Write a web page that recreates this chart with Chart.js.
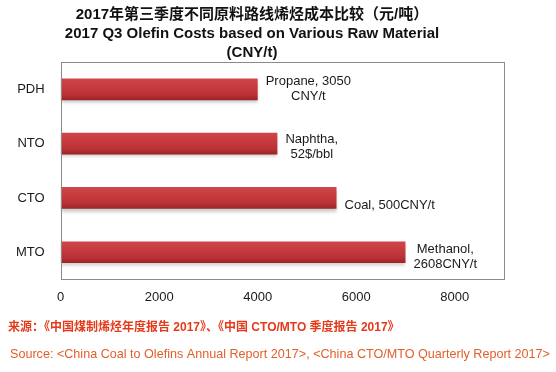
<!DOCTYPE html>
<html>
<head>
<meta charset="utf-8">
<script src="https://cdn.jsdelivr.net/npm/chart.js@4"></script>
<style>
  body { margin: 0; background: #fff; }
  #wrap { width: 556px; height: 372px; }
</style>
</head>
<body>
<div id="wrap"><canvas id="barChart" width="556" height="372"></canvas></div>
<script>
const routes = ['PDH', 'NTO', 'CTO', 'MTO'];
const costs = [4000, 4400, 5600, 7000];
const feedLabels = [
    ['Propane, 3050', 'CNY/t'],
    ['Naphtha,', '52$/bbl'],
    ['Coal, 500CNY/t'],
    ['Methanol,', '2608CNY/t']
];
const xTicks = [0, 2000, 4000, 6000, 8000];
const titleLines = [
    '2017年第三季度不同原料路线烯烃成本比较（元/吨）',
    '2017 Q3 Olefin Costs based on Various Raw Material',
    '(CNY/t)'
];
const sourceCn = '来源：《中国煤制烯烃年度报告 2017》、《中国 CTO/MTO 季度报告 2017》';
const sourceEn = 'Source: <China Coal to Olefins Annual Report 2017>, <China CTO/MTO Quarterly Report 2017>';

const FONT = '"Liberation Sans", Arial, "Noto Sans CJK SC", sans-serif';

// red bar with a darker lower edge
function barFill(c) {
    const chart = c.chart;
    const y = chart.scales.y;
    if (!y || c.dataIndex === undefined) return '#c0363a';
    const mid = y.getPixelForValue(c.dataIndex);
    if (!isFinite(mid)) return '#c0363a';
    const g = chart.ctx.createLinearGradient(0, mid - 11, 0, mid + 11);
    g.addColorStop(0, '#d0464a');
    g.addColorStop(0.35, '#c83c40');
    g.addColorStop(0.75, '#b93135');
    g.addColorStop(1, '#982226');
    return g;
}

const extras = {
    id: 'extras',
    beforeDatasetsDraw(chart) {
        const ctx = chart.ctx;
        ctx.save();
        ctx.shadowColor = 'rgba(0,0,0,0.2)';
        ctx.shadowOffsetY = 3;
        ctx.shadowBlur = 3;
    },
    afterDatasetsDraw(chart) {
        const ctx = chart.ctx;
        ctx.restore();
        const a = chart.chartArea;
        ctx.save();
        ctx.strokeStyle = '#8a8a8a';
        ctx.lineWidth = 1;
        ctx.strokeRect(Math.round(a.left) + 0.5, Math.round(a.top) + 0.5,
            Math.round(a.right - a.left), Math.round(a.bottom - a.top));

        // feedstock labels beside the bars
        const meta = chart.getDatasetMeta(0);
        ctx.font = '13px ' + FONT;
        ctx.fillStyle = '#1a1a1a';
        ctx.textBaseline = 'middle';
        ctx.textAlign = 'center';
        const shift = [0, 3.5, 7, 5];
        meta.data.forEach((bar, i) => {
            const lines = feedLabels[i];
            let w = 0;
            lines.forEach(t => { w = Math.max(w, ctx.measureText(t).width); });
            const cx = bar.x + 8 + w / 2;
            const top = bar.y + shift[i] - (lines.length - 1) * 7.5;
            lines.forEach((t, k) => ctx.fillText(t, cx, top + k * 15));
        });

        // source notes
        ctx.textAlign = 'left';
        ctx.font = 'bold 12px ' + FONT;
        ctx.fillStyle = '#e5391a';
        ctx.fillText(sourceCn, 8, 328);
        ctx.font = '12.6px ' + FONT;
        ctx.fillStyle = '#e0602c';
        ctx.fillText(sourceEn, 10, 355);
        ctx.restore();
    }
};

const ctx = document.getElementById('barChart').getContext('2d');

const barChart = new Chart(ctx, {
    type: 'bar',
    data: {
        labels: routes,
        datasets: [{
            label: 'Cost',
            data: costs,
            backgroundColor: barFill,
            borderWidth: 0,
            barPercentage: 0.4,
            categoryPercentage: 1
        }]
    },
    options: {
        indexAxis: 'y',
        responsive: false,
        animation: false,
        layout: {
            padding: { top: 2, right: 52, bottom: 57, left: 0 }
        },
        plugins: {
            legend: { display: false },
            tooltip: { enabled: false },
            title: {
                display: true,
                text: titleLines,
                color: '#111',
                font: { family: FONT, size: 15, weight: 'bold', lineHeight: 1.27 },
                padding: { top: 3, bottom: 0 }
            }
        },
        scales: {
            x: {
                min: 0,
                max: 9000,
                afterBuildTicks: axis => {
                    axis.ticks = xTicks.map(v => ({ value: v }));
                },
                grid: { display: false, drawTicks: false },
                border: { display: false },
                ticks: {
                    color: '#1a1a1a',
                    padding: 10,
                    font: { family: FONT, size: 13 },
                    callback: v => String(v)
                }
            },
            y: {
                grid: { display: false, drawTicks: false },
                border: { display: false },
                ticks: {
                    color: '#1a1a1a',
                    padding: 16,
                    font: { family: FONT, size: 13 }
                }
            }
        }
    },
    plugins: [extras]
});
</script>
</body>
</html>
